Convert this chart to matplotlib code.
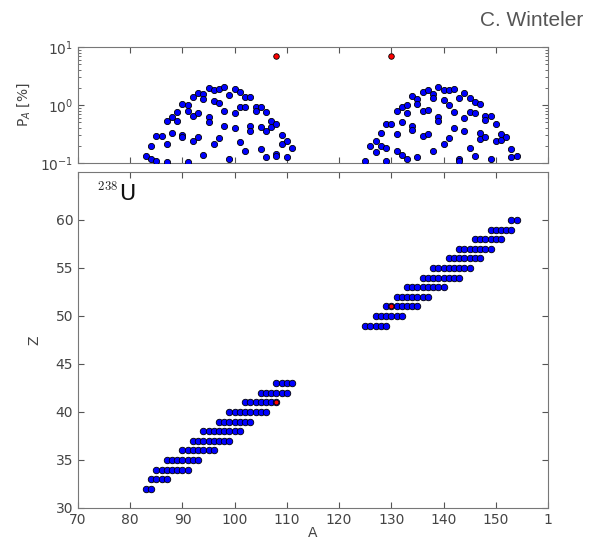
import numpy as np
import matplotlib
matplotlib.use('Agg')
import matplotlib.pyplot as plt
from matplotlib.ticker import LogLocator, NullFormatter

# fission yield per mass number (top panel)
yield_A = [83, 84, 84, 85, 85, 86, 87, 87, 87, 88, 88, 89, 89, 90, 90, 90,
           91, 91, 91, 92, 92, 92, 93, 93, 93, 94, 94, 94, 95, 95, 95,
           96, 96, 96, 97, 97, 97, 98, 98, 98, 99, 99, 100, 100, 100,
           101, 101, 101, 102, 102, 102, 103, 103, 103, 104, 104,
           105, 105, 105, 106, 106, 106, 107, 107, 108, 108, 108,
           109, 109, 110, 110, 111,
           125, 126, 127, 127, 128, 128, 129, 129, 129, 130, 131, 131, 131,
           132, 132, 132, 133, 133, 133, 134, 134, 134, 135, 135, 135,
           136, 136, 136, 137, 137, 137, 138, 138, 138, 139, 139, 139,
           140, 140, 140, 141, 141, 141, 142, 142, 142, 143, 143, 143,
           144, 144, 144, 145, 145, 145, 146, 146, 146, 147, 147, 147,
           148, 148, 148, 149, 149, 150, 150, 151, 151, 152, 153, 153, 154]
yield_P = [0.131, 0.196, 0.115, 0.107, 0.292, 0.292, 0.521, 0.209, 0.104,
           0.63, 0.335, 0.521, 0.75, 1.05, 0.305, 0.281,
           1.02, 0.80, 0.104, 1.37, 0.655, 0.239, 1.61, 0.72, 0.281,
           1.53, 1.25, 0.136, 2.0, 0.61, 0.50,
           1.79, 1.17, 0.209, 1.92, 1.08, 0.274, 2.05, 0.78, 0.438,
           1.47, 0.119, 1.89, 0.72, 0.40,
           1.68, 0.92, 0.233, 1.37, 0.92, 0.164, 1.37, 0.438, 0.358,
           0.92, 0.80, 0.92, 0.41, 0.171, 0.75, 0.358, 0.126,
           0.521, 0.41, 0.48, 0.144, 0.131,
           0.305, 0.215, 0.239, 0.126, 0.183,
           0.107, 0.196, 0.239, 0.156, 0.335, 0.196, 0.48, 0.178, 0.11,
           0.469, 0.80, 0.313, 0.164,
           0.92, 0.50, 0.14, 1.02, 0.72, 0.119, 1.41, 0.438, 0.368,
           1.28, 1.05, 0.129, 1.68, 0.78, 0.292, 1.79, 0.82, 0.321,
           1.57, 1.32, 0.16, 2.05, 0.63, 0.536,
           1.79, 1.23, 0.209, 1.85, 1.02, 0.274, 1.89, 0.75, 0.40,
           1.32, 0.115, 0.107, 1.61, 0.595, 0.358, 1.32, 0.75, 0.183,
           1.12, 0.72, 0.131, 1.05, 0.335, 0.256,
           0.655, 0.55, 0.281, 0.655, 0.119, 0.48, 0.239, 0.321, 0.245,
           0.281, 0.171, 0.126, 0.131]
red_A = [108, 130]
red_P = [6.9, 6.9]

# nuclides in the chart (bottom panel): Z and the A values per row
light_Z = [32, 33, 34, 35, 36, 37, 38, 39, 40, 41, 42, 43]
light_A = [[83, 84],
           [84, 85, 86, 87],
           [85, 86, 87, 88, 89, 90, 91],
           [87, 88, 89, 90, 91, 92, 93],
           [90, 91, 92, 93, 94, 95, 96],
           [92, 93, 94, 95, 96, 97, 98, 99],
           [94, 95, 96, 97, 98, 99, 100, 101],
           [97, 98, 99, 100, 101, 102, 103],
           [99, 100, 101, 102, 103, 104, 105, 106],
           [102, 103, 104, 105, 106, 107, 108],
           [105, 106, 107, 108, 109, 110],
           [108, 109, 110, 111]]
heavy_Z = [49, 50, 51, 52, 53, 54, 55, 56, 57, 58, 59, 60]
heavy_A = [[125, 126, 127, 128, 129],
           [127, 128, 129, 130, 131, 132],
           [129, 130, 131, 132, 133, 134, 135],
           [131, 132, 133, 134, 135, 136, 137],
           [133, 134, 135, 136, 137, 138, 139, 140],
           [136, 137, 138, 139, 140, 141, 142, 143],
           [138, 139, 140, 141, 142, 143, 144, 145],
           [141, 142, 143, 144, 145, 146, 147],
           [143, 144, 145, 146, 147, 148, 149],
           [146, 147, 148, 149, 150, 151],
           [149, 150, 151, 152, 153],
           [153, 154]]
red_nuc_A = [108, 130]
red_nuc_Z = [41, 51]

x_ticks = [70, 80, 90, 100, 110, 120, 130, 140, 150, 160]
x_ticklabels = ['70', '80', '90', '100', '110', '120', '130', '140', '150', '1']
z_ticks = [30, 35, 40, 45, 50, 55, 60]

gray = '#444444'
spine_c = '#777777'

fig = plt.figure(figsize=(5.9, 5.43), dpi=100)
ax1 = fig.add_axes([0.1322, 0.6998, 0.7966, 0.2136])
ax2 = fig.add_axes([0.1322, 0.0645, 0.7966, 0.6188])

for ax in (ax1, ax2):
    for s in ax.spines.values():
        s.set_color(spine_c)
    ax.tick_params(which='both', direction='in', top=True, right=True,
                   colors='#555555', labelcolor=gray, labelsize=10)
    ax.tick_params(which='major', length=4)
    ax.tick_params(which='minor', length=2)

# top panel
ax1.scatter(yield_A, yield_P, s=20, c='#0000ff', edgecolors='black',
            linewidths=0.6, zorder=3)
ax1.scatter(red_A, red_P, s=16, c='red', edgecolors='black',
            linewidths=0.6, zorder=3)
ax1.set_yscale('log')
ax1.set_ylim(0.1, 10)
ax1.set_xlim(70, 160)
ax1.set_xticks(x_ticks)
ax1.set_xticklabels([])
ax1.yaxis.set_minor_locator(LogLocator(base=10, subs=np.arange(2, 10)))
ax1.yaxis.set_minor_formatter(NullFormatter())
ax1.set_ylabel(r'P$_A$ [%]', color=gray, fontsize=10, labelpad=6)

# bottom panel
for z, row in zip(light_Z, light_A):
    ax2.scatter(row, [z] * len(row), s=22, c='#0000ff', edgecolors='black',
                linewidths=0.6, zorder=3)
for z, row in zip(heavy_Z, heavy_A):
    ax2.scatter(row, [z] * len(row), s=22, c='#0000ff', edgecolors='black',
                linewidths=0.6, zorder=3)
ax2.scatter(red_nuc_A, red_nuc_Z, s=12, c='red', edgecolors='black',
            linewidths=0.5, zorder=4)
ax2.set_xlim(70, 160)
ax2.set_ylim(30, 65)
ax2.set_xticks(x_ticks)
ax2.set_xticklabels(x_ticklabels)
ax2.set_yticks(z_ticks)
ax2.set_xlabel('A', color=gray, fontsize=10)
ax2.set_ylabel('Z', color=gray, fontsize=10)
ax2.yaxis.set_label_coords(-0.078, 0.5)
ax2.xaxis.set_label_coords(0.5, -0.055)

ax2.text(0.040, 0.975, r'$^{238}$', transform=ax2.transAxes, fontsize=13,
         math_fontfamily='cm', va='top', ha='left', color='#222222')
ax2.text(0.088, 0.965, 'U', transform=ax2.transAxes, fontsize=16,
         va='top', ha='left', color='#111111')

fig.text(0.988, 0.962, 'C. Winteler', fontsize=15, color='#555555',
         family='Liberation Sans', ha='right', va='center')

fig.savefig('out.png', dpi=100)
